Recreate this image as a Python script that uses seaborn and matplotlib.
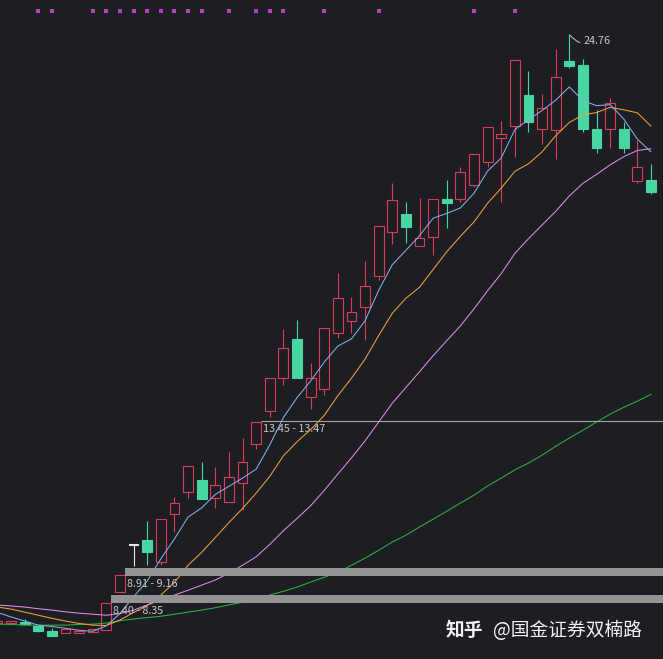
import numpy as np
import pandas as pd
import matplotlib
matplotlib.use('Agg')
import matplotlib.pyplot as plt
import seaborn as sns

# daily candles (day 0 is clipped at the left edge)
opens = [7.54, 7.54, 7.57, 7.45, 7.31, 7.25, 7.25, 7.28, 7.33, 8.45,
         9.82, 9.97, 9.32, 10.73, 11.37, 11.72, 11.19, 11.08, 11.63, 12.77,
         13.74, 14.70, 15.84, 14.15, 14.38, 16.02, 16.37, 16.78, 17.69, 18.97,
         19.50, 18.56, 18.83, 19.94, 19.94, 20.35, 21.02, 21.72, 22.07, 22.98,
         21.98, 21.95, 23.97, 23.86, 21.98, 21.98, 21.98, 20.46, 20.49]
highs = [7.60, 7.60, 7.66, 7.45, 7.39, 7.36, 7.31, 7.36, 8.12, 8.94,
         9.82, 10.52, 10.58, 11.22, 12.13, 12.25, 12.10, 12.54, 12.95, 13.42,
         14.70, 16.14, 16.40, 15.14, 16.16, 17.77, 17.07, 18.12, 19.15, 20.40,
         19.85, 19.97, 19.94, 20.49, 20.87, 21.25, 22.04, 22.22, 24.00, 23.68,
         23.01, 24.32, 24.76, 24.03, 22.54, 22.89, 22.19, 21.66, 20.96]
lows = [7.54, 7.54, 7.51, 7.28, 7.16, 7.25, 7.25, 7.28, 7.33, 8.45,
        9.21, 9.24, 9.24, 10.20, 11.19, 11.16, 10.90, 11.08, 10.84, 12.63,
        13.56, 14.50, 14.70, 13.80, 14.21, 15.87, 16.02, 15.81, 17.57, 18.62,
        18.65, 18.56, 18.30, 19.09, 19.85, 20.29, 20.87, 19.85, 21.17, 21.90,
        21.55, 21.11, 23.77, 21.90, 21.28, 21.43, 21.28, 20.40, 20.08]
closes = [7.60, 7.60, 7.51, 7.31, 7.16, 7.36, 7.31, 7.36, 8.12, 8.94,
          9.82, 9.62, 10.58, 11.05, 12.13, 11.16, 11.57, 11.81, 12.25, 13.42,
          14.70, 15.58, 14.70, 14.70, 16.16, 17.04, 16.63, 17.39, 19.15, 19.91,
          19.12, 18.80, 19.94, 19.82, 20.73, 21.25, 22.04, 21.84, 24.00, 22.19,
          22.60, 23.50, 23.83, 21.98, 21.43, 22.74, 21.43, 20.87, 20.14]

# moving average lines as drawn
ma5 = [7.85, 7.72, 7.60, 7.48, 7.44, 7.39, 7.33, 7.30, 7.46, 7.82,
       8.31, 8.77, 9.42, 10.00, 10.64, 10.91, 11.30, 11.54, 11.78, 12.04,
       12.75, 13.55, 14.13, 14.62, 15.17, 15.64, 15.85, 16.38, 17.27, 18.02,
       18.44, 18.87, 19.38, 19.52, 19.68, 20.11, 20.76, 21.14, 21.97, 22.26,
       22.53, 22.83, 23.22, 22.82, 22.67, 22.70, 22.28, 21.69, 21.32]
ma10 = [8.01, 7.95, 7.86, 7.77, 7.68, 7.60, 7.53, 7.48, 7.47, 7.63,
        7.85, 8.05, 8.36, 8.73, 9.23, 9.61, 10.04, 10.48, 10.89, 11.34,
        11.83, 12.43, 12.84, 13.20, 13.61, 14.19, 14.70, 15.26, 15.95, 16.60,
        17.04, 17.36, 17.88, 18.40, 18.85, 19.27, 19.82, 20.26, 20.75, 20.97,
        21.32, 21.79, 22.18, 22.40, 22.47, 22.62, 22.55, 22.46, 22.07]
ma20 = [8.07, 8.04, 8.01, 7.96, 7.92, 7.87, 7.83, 7.80, 7.77, 7.82,
        7.92, 8.07, 8.21, 8.36, 8.50, 8.65, 8.80, 9.00, 9.23, 9.48,
        9.84, 10.24, 10.60, 10.97, 11.42, 11.90, 12.37, 12.87, 13.42, 13.97,
        14.43, 14.89, 15.36, 15.80, 16.23, 16.73, 17.26, 17.76, 18.35, 18.78,
        19.18, 19.58, 20.03, 20.40, 20.66, 20.94, 21.18, 21.36, 21.41]
ma60 = [7.51, 7.50, 7.48, 7.48, 7.48, 7.48, 7.50, 7.51, 7.54, 7.61,
        7.66, 7.70, 7.74, 7.80, 7.86, 7.92, 7.99, 8.07, 8.15, 8.24,
        8.36, 8.47, 8.59, 8.74, 8.88, 9.03, 9.23, 9.44, 9.67, 9.91,
        10.11, 10.35, 10.58, 10.81, 11.05, 11.28, 11.55, 11.78, 12.02, 12.22,
        12.45, 12.71, 12.95, 13.18, 13.42, 13.65, 13.85, 14.03, 14.23]

# signal dots along the top
signal_days = [3, 4, 7, 8, 9, 10, 11, 12, 13, 14, 15, 17, 19, 20, 21, 24, 28, 35, 38]

# gap zones and the price level
zone_start = [9, 8]
zone_low = [8.91, 8.12]
zone_high = [9.16, 8.36]
zone_labels = ['8.91 - 9.16', '8.40 - 8.35']
level_start = 19
level_price = 13.46
level_label = '13.45 - 13.47'
peak_day = 42
peak_label = '24.76'

bg = '#1d1e23'
red = '#dc3c58'
green = '#48d6a2'
flat = '#e6e6e6'
label_col = '#c8c8cc'

sns.set_theme(style='dark', rc={'axes.facecolor': bg, 'figure.facecolor': bg})
plt.rcParams['font.family'] = ['Noto Sans CJK SC', 'DejaVu Sans']

df = pd.DataFrame({'day': np.arange(len(closes)), 'open': opens, 'high': highs,
                   'low': lows, 'close': closes})
df['colour'] = np.where(df.close > df.open, red, np.where(df.close < df.open, green, flat))
df['face'] = np.where(df.close > df.open, bg, df.colour)
df['bottom'] = df[['open', 'close']].min(axis=1)
df['height'] = (df.close - df.open).abs().clip(lower=0.03)

fig = plt.figure(figsize=(6.63, 6.59), dpi=100)
ax = fig.add_axes([0, 0, 1, 1])
ax.set_facecolor(bg)

# wicks then bodies (hollow up candles hide the wick inside)
ax.vlines(df.day, df.low, df.high, colors=df.colour, linewidth=0.8, zorder=2)
ax.bar(df.day, df.height, bottom=df.bottom, width=0.72, color=df.face,
       edgecolor=df.colour, linewidth=0.8, zorder=3)

ma = pd.DataFrame({'day': df.day, 'MA5': ma5, 'MA10': ma10, 'MA20': ma20, 'MA60': ma60})
for col, c in [('MA60', '#2fb03a'), ('MA20', '#e38ae6'), ('MA10', '#f0a234'), ('MA5', '#86aee6')]:
    sns.lineplot(data=ma, x='day', y=col, ax=ax, color=c, linewidth=0.75, zorder=4)

# gap zones
for s, lo, hi, lab in zip(zone_start, zone_low, zone_high, zone_labels):
    ax.fill_between([s + 0.37, 60], lo, hi, color='#939393', linewidth=0, zorder=5)
    ax.annotate(lab, xy=(s + 0.37, lo), xytext=(1.5, -2), textcoords='offset points',
                ha='left', va='top', fontsize=7.8, color=label_col, zorder=6)

ax.hlines(level_price, level_start + 0.37, 60, color='#a4a4a4', linewidth=0.8, zorder=5)
ax.annotate(level_label, xy=(level_start + 0.37, level_price), xytext=(1, -2.5),
            textcoords='offset points', ha='left', va='top', fontsize=7.8, color=label_col)

ax.annotate(peak_label, xy=(peak_day, highs[peak_day]), xytext=(10, -5),
            textcoords='offset points', ha='left', va='center', fontsize=7.8, color=label_col,
            arrowprops=dict(arrowstyle='-', color=label_col, lw=0.7, shrinkA=0, shrinkB=1,
                            connectionstyle='arc3,rad=-0.4'))

ax.scatter(signal_days, [0.983] * len(signal_days), transform=ax.get_xaxis_transform(),
           marker='s', s=8, color='#b23ec6', linewidths=0, zorder=6)

ax.set_xlim(0.19, 48.88)
ax.set_ylim(6.49, 25.76)
ax.set_xlabel('')
ax.set_ylabel('')
ax.set_xticks([])
ax.set_yticks([])
for sp in ax.spines.values():
    sp.set_visible(False)

fig.text(0.673, 0.044, '知乎', fontsize=13.5, fontweight='bold', color='#f2f2f2', va='center')
fig.text(0.744, 0.044, '@国金证券双楠路', fontsize=13.5, color='#f2f2f2', va='center')

fig.savefig('out.png', dpi=100, facecolor=bg)
